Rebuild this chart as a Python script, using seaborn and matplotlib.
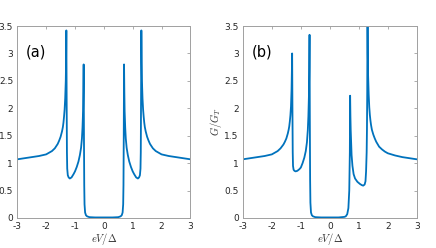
import numpy as np
import matplotlib
matplotlib.use('Agg')
import matplotlib.pyplot as plt
import seaborn as sns

# bias voltage eV/Delta and normalised conductance G/G_T
v_a = [-3.0, -2.75, -2.5, -2.25, -2.0, -1.9, -1.8, -1.7, -1.6, -1.55, -1.5,
       -1.45, -1.42, -1.4, -1.38, -1.36, -1.34, -1.32, -1.31, -1.30, -1.29,
       -1.28, -1.27, -1.25, -1.22, -1.18, -1.12, -1.05, -1.0, -0.94, -0.88,
       -0.83, -0.79, -0.76, -0.74, -0.72, -0.71, -0.70, -0.69, -0.68, -0.67,
       -0.65, -0.62, -0.58, -0.5, -0.3, 0.0,
       0.3, 0.5, 0.58, 0.62, 0.65, 0.67, 0.68, 0.69, 0.70, 0.71, 0.72, 0.74,
       0.76, 0.79, 0.83, 0.88, 0.94, 1.0, 1.05, 1.12, 1.18, 1.22, 1.25, 1.27,
       1.28, 1.29, 1.30, 1.31, 1.32, 1.34, 1.36, 1.38, 1.4, 1.42, 1.45, 1.5,
       1.55, 1.6, 1.7, 1.8, 1.9, 2.0, 2.25, 2.5, 2.75, 3.0]
g_a = [1.07, 1.09, 1.11, 1.13, 1.16, 1.19, 1.22, 1.27, 1.35, 1.41, 1.48,
       1.58, 1.66, 1.74, 1.85, 1.98, 2.18, 2.5, 2.85, 3.42, 2.2,
       1.2, 0.9, 0.78, 0.74, 0.72, 0.74, 0.8, 0.85, 0.93, 1.03,
       1.15, 1.28, 1.45, 1.65, 1.95, 2.3, 2.8, 1.5, 0.6, 0.25,
       0.1, 0.05, 0.03, 0.015, 0.01, 0.01,
       0.01, 0.015, 0.03, 0.05, 0.1, 0.25, 0.6, 1.5, 2.8, 2.3, 1.95, 1.65,
       1.45, 1.28, 1.15, 1.03, 0.93, 0.85, 0.8, 0.74, 0.72, 0.74, 0.78, 0.9,
       1.2, 2.2, 3.42, 2.85, 2.5, 2.18, 1.98, 1.85, 1.74, 1.66, 1.58, 1.48,
       1.41, 1.35, 1.27, 1.22, 1.19, 1.16, 1.13, 1.11, 1.09, 1.07]

v_b = [-3.0, -2.75, -2.5, -2.25, -2.0, -1.9, -1.8, -1.7, -1.6, -1.55, -1.5,
       -1.45, -1.42, -1.4, -1.38, -1.36, -1.34, -1.32, -1.31, -1.30, -1.29,
       -1.28, -1.27, -1.25, -1.22, -1.18, -1.12, -1.05, -1.0, -0.94, -0.88,
       -0.83, -0.79, -0.76, -0.74, -0.72, -0.71, -0.70, -0.69, -0.68, -0.67,
       -0.65, -0.62, -0.58, -0.5, -0.3, 0.0,
       0.3, 0.5, 0.55, 0.6, 0.64, 0.67, 0.69, 0.70, 0.71, 0.72, 0.73, 0.75,
       0.78, 0.82, 0.87, 0.95, 1.04, 1.1, 1.15, 1.2, 1.23, 1.25, 1.27, 1.28,
       1.29, 1.30, 1.31, 1.32, 1.34, 1.36, 1.38, 1.4, 1.42, 1.45, 1.5, 1.55,
       1.6, 1.7, 1.8, 1.9, 2.0, 2.25, 2.5, 2.75, 3.0]
g_b = [1.07, 1.09, 1.11, 1.13, 1.16, 1.19, 1.22, 1.27, 1.34, 1.39, 1.45,
       1.54, 1.61, 1.67, 1.76, 1.87, 2.03, 2.35, 2.65, 3.0, 2.0,
       1.2, 0.95, 0.88, 0.86, 0.85, 0.86, 0.89, 0.92, 1.0, 1.1,
       1.22, 1.38, 1.6, 1.85, 2.25, 2.7, 3.34, 1.8, 0.7, 0.28,
       0.1, 0.05, 0.03, 0.015, 0.01, 0.01,
       0.01, 0.02, 0.03, 0.07, 0.18, 0.5, 1.2, 2.23, 1.85, 1.6, 1.45, 1.15,
       0.95, 0.8, 0.72, 0.66, 0.62, 0.6, 0.59, 0.61, 0.67, 0.85, 1.2, 1.6,
       2.3, 3.8, 3.0, 2.6, 2.25, 2.02, 1.88, 1.78, 1.7, 1.61, 1.52, 1.45,
       1.39, 1.3, 1.25, 1.21, 1.18, 1.14, 1.11, 1.09, 1.07]

panels = ['(a)', '(b)']
xticks = [-3, -2, -1, 0, 1, 2, 3]
yticks = [0, 0.5, 1, 1.5, 2, 2.5, 3, 3.5]
ytick_labels = ['0', '0.5', '1', '1.5', '2', '2.5', '3', '3.5']

sns.set_style('white')
plt.rcParams['font.family'] = ['DejaVu Sans']
plt.rcParams['mathtext.fontset'] = 'cm'

fig = plt.figure(figsize=(4.36, 2.48), dpi=100)
ax_a = fig.add_axes([0.0397, 0.121, 0.397, 0.774])
ax_b = fig.add_axes([0.557, 0.121, 0.399, 0.774])

blue = '#0072BD'

for ax, v, g, tag in zip([ax_a, ax_b], [v_a, v_b], [g_a, g_b], panels):
    sns.lineplot(x=v, y=g, ax=ax, color=blue, linewidth=1.3, sort=False)
    ax.set_xlim(-3, 3)
    ax.set_ylim(0, 3.5)
    ax.set_xticks(xticks)
    ax.set_xticklabels([str(t) for t in xticks])
    ax.set_yticks(yticks)
    ax.set_yticklabels(ytick_labels)
    ax.tick_params(direction='in', length=2.5, width=0.6, colors='#a0a0a0',
                   labelcolor='#262626', labelsize=6.5, pad=3,
                   top=True, right=True)
    for s in ax.spines.values():
        s.set_color('#a0a0a0')
        s.set_linewidth(0.7)
    ax.text(-2.7, 3.02, tag, fontsize=10.5, color='black', va='center')
    ax.set_xlabel(r'$eV/\Delta$', fontsize=7.5, color='#303030', labelpad=0)
    ax.set_ylabel(r'$G/G_T$', fontsize=7.5, color='#303030', labelpad=0)

fig.savefig('out.png', dpi=100)
